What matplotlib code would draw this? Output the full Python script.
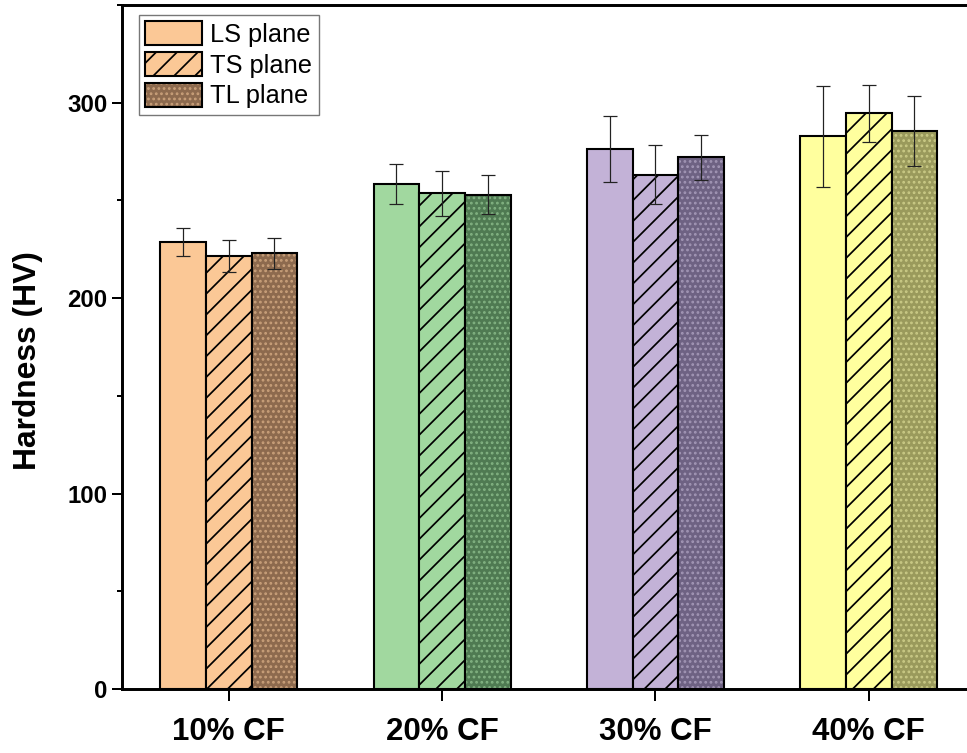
import numpy as np
import matplotlib
matplotlib.use("Agg")
import matplotlib.pyplot as plt
from matplotlib.ticker import MultipleLocator

plt.rcParams['font.family'] = ['Liberation Sans', 'DejaVu Sans']
plt.rcParams['hatch.linewidth'] = 1.0

# hardness data (HV)
groups = ["10% CF", "20% CF", "30% CF", "40% CF"]
planes = ["LS plane", "TS plane", "TL plane"]

ls_vals = [228.8, 258.3, 276.3, 282.8]
ls_err = [7.2, 10.1, 16.9, 25.9]
ts_vals = [221.7, 253.6, 263.2, 294.6]
ts_err = [8.3, 11.5, 15.2, 14.7]
tl_vals = [222.9, 252.9, 272.0, 285.5]
tl_err = [7.9, 10.0, 11.4, 17.9]

light_colors = ["#FBC896", "#A1D89F", "#C3B2D7", "#FFFF9E"]
dark_colors = ["#8D6A4E", "#4F7A52", "#6E6283", "#9A9A5C"]
speck_colors = ["#C9A07A", "#82B282", "#A296B5", "#CACA86"]

dpi = 125
fig = plt.figure(figsize=(967 / dpi, 753 / dpi), dpi=dpi)
ax = fig.add_axes([122 / 967, 1 - 689 / 753, (975.5 - 122) / 967, (689 - 5) / 753])

x = np.arange(1, len(groups) + 1)
w = 0.214
lw_bar = 1.2

# LS: plain fill
ls_bars = ax.bar(x - w, ls_vals, w, color=light_colors, edgecolor="black", linewidth=lw_bar, zorder=2)

# TS: same fill, diagonal hatch
ts_bars = ax.bar(x, ts_vals, w, color=light_colors, edgecolor="black", hatch="//", linewidth=lw_bar, zorder=2)

# TL: dark fill with speckle texture, outline drawn separately
tl_fill = ax.bar(x + w, tl_vals, w, color=dark_colors, edgecolor=speck_colors, hatch="....", linewidth=0, zorder=2)
tl_edge = ax.bar(x + w, tl_vals, w, fill=False, edgecolor="black", linewidth=lw_bar, zorder=3)

eb_kw = dict(fmt="none", ecolor="#222222", elinewidth=0.7, capsize=3.8, capthick=0.7, zorder=4)
ax.errorbar(x - w, ls_vals, yerr=ls_err, **eb_kw)
ax.errorbar(x, ts_vals, yerr=ts_err, **eb_kw)
ax.errorbar(x + w, tl_vals, yerr=tl_err, **eb_kw)

ax.set_xlim(0.5, 4.5)
ax.set_ylim(0, 350)
ax.set_xticks(x)
ax.set_xticklabels(groups, fontsize=18, fontweight="bold")
ax.yaxis.set_major_locator(MultipleLocator(100))
ax.yaxis.set_minor_locator(MultipleLocator(50))
for lab in ax.get_yticklabels():
    lab.set_fontweight("bold")
ax.tick_params(axis="y", which="major", length=5.8, width=1.15, labelsize=13.8, pad=2.5)
ax.tick_params(axis="y", which="minor", length=3, width=1.15)
ax.tick_params(axis="x", which="major", length=7, width=1.15, pad=9)
ax.set_ylabel("Hardness (HV)", fontsize=18.3, fontweight="bold")
ax.yaxis.set_label_coords(-0.092, 0.48)

for s in ax.spines.values():
    s.set_linewidth(1.7)

handles = [ls_bars[0], ts_bars[0], (tl_fill[0], tl_edge[0])]
leg = ax.legend(handles, planes, loc="upper left", bbox_to_anchor=(0.0199, 0.9854),
                borderaxespad=0, fontsize=14.6, frameon=True, fancybox=False,
                edgecolor="#555555", handlelength=2.25, handleheight=1.08,
                labelspacing=0.2, borderpad=0.25, handletextpad=0.32)
leg.get_frame().set_linewidth(0.8)

fig.savefig("out.png", dpi=dpi)
